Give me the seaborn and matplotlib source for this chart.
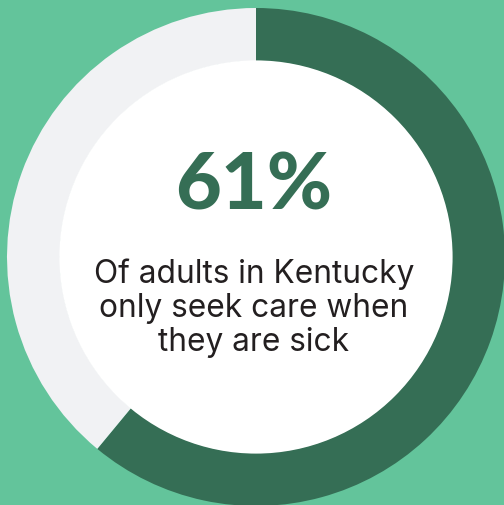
import matplotlib
matplotlib.use("Agg")
import matplotlib.pyplot as plt
import seaborn as sns

# data
labels = ["Only seek care when sick", "Other"]
values = [61, 39]
headline = "61%"
caption_lines = ["Of adults in Kentucky", "only seek care when", "they are sick"]

colors = ["#356e55", "#f1f2f4"]
bg = "#63c49b"

sns.set_theme(style="white")
plt.rcParams["font.family"] = ["Lato", "DejaVu Sans"]

W, H = 504, 506
fig = plt.figure(figsize=(W / 100, H / 100), dpi=100, facecolor=bg)
ax = fig.add_axes([0, 0, 1, 1])
ax.set_facecolor(bg)

cx, cy = 256, H - 258
R, ring = 249, 53

ax.pie(values, colors=colors, startangle=90, counterclock=False,
       radius=R, center=(cx, cy),
       wedgeprops=dict(width=ring, linewidth=0))
inner = plt.Circle((cx, cy), R - ring + 0.6, color="white", lw=0)
ax.add_patch(inner)

ax.set_xlim(0, W)
ax.set_ylim(0, H)
ax.set_aspect("equal")
ax.axis("off")

ax.text(254, H - 210, headline, ha="center", va="baseline",
        fontsize=57, fontweight="black", color="#356e55")
baselines = [283, 317, 351]
for line, b in zip(caption_lines, baselines):
    ax.text(254, H - b, line, ha="center", va="baseline",
            fontsize=22.8, fontweight="normal", color="#231f20",
            family=["Inter", "DejaVu Sans"])

fig.savefig("out.png", dpi=100, facecolor=bg)
